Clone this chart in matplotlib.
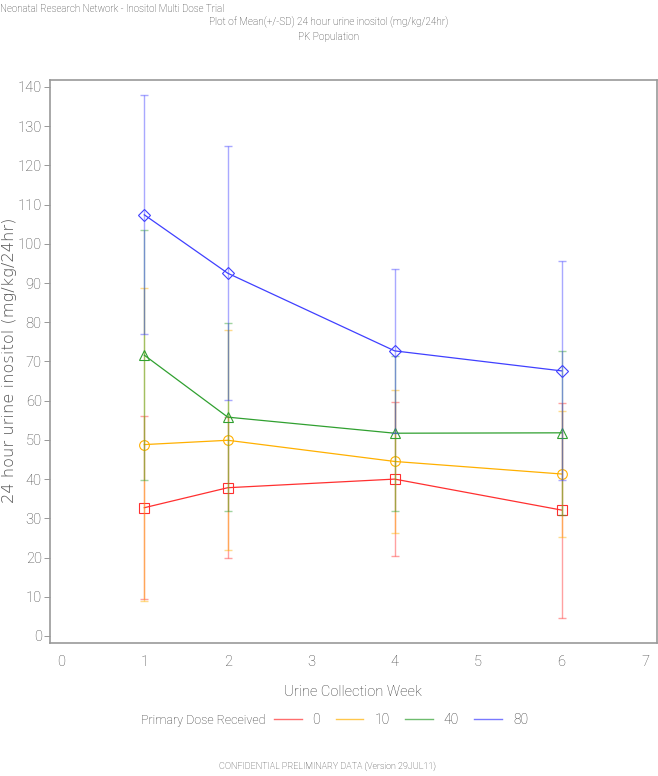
import matplotlib
matplotlib.use("Agg")
import matplotlib.pyplot as plt
from matplotlib.lines import Line2D

plt.rcParams['font.family'] = ['Roboto', 'DejaVu Sans']
plt.rcParams['font.weight'] = 'light'

weeks = [1, 2, 4, 6]
doses = ['0', '10', '40', '80']
means = {
    '0':  [32.7, 37.8, 40.0, 32.1],
    '10': [48.8, 49.9, 44.5, 41.3],
    '40': [71.6, 55.8, 51.7, 51.8],
    '80': [107.4, 92.5, 72.7, 67.6],
}
sds = {
    '0':  [23.3, 18.0, 19.6, 27.4],
    '10': [40.0, 28.0, 18.3, 16.1],
    '40': [31.9, 24.0, 19.8, 20.9],
    '80': [30.5, 32.4, 20.9, 27.9],
}
colors = {'0': '#ff3030', '10': '#ffb000', '40': '#30a030', '80': '#4040ff'}
markers = {'0': 's', '10': 'o', '40': '^', '80': 'D'}
msizes = {'0': 7, '10': 7, '40': 7, '80': 6}

fig = plt.figure(figsize=(6.58, 7.76), dpi=100)
ax = fig.add_axes([0.076, 0.1714, 0.922, 0.7256])

for d in doses:
    c = colors[d]
    ax.errorbar(weeks, means[d], yerr=sds[d], fmt='none', ecolor=c, alpha=0.45,
                elinewidth=1, capsize=3, capthick=1)
    ax.plot(weeks, means[d], color=c, lw=0.9, marker=markers[d], ms=msizes[d],
            mfc='none', mec=c, mew=0.8)

ax.set_xlim(-0.13, 7.14)
ax.set_ylim(-1.8, 141.8)
ax.set_xticks(range(0, 8))
ax.set_yticks(range(0, 141, 10))
ax.tick_params(axis='x', length=0, pad=9, labelsize=10.5, colors='#444444')
ax.tick_params(axis='y', length=4, width=0.6, labelsize=10.5, colors='#444444', color='#888888',
               pad=2)
for s in ax.spines.values():
    s.set_color('#999999')
    s.set_linewidth(1.2)

ax.set_xlabel('Urine Collection Week', fontsize=10.5, color='#333333', labelpad=11,
              fontweight='light')
fig.text(0.014, 0.536, '24 hour urine inositol (mg/kg/24hr)', rotation=90, fontsize=11.7,
         color='#555555', ha='center', va='center', family=['DejaVu Sans'],
         fontweight='light')

fig.text(0.0, 0.995, 'Neonatal Research Network - Inositol Multi Dose Trial', fontsize=7,
         ha='left', va='top', color='#333333')
fig.text(0.5, 0.979, 'Plot of Mean(+/-SD) 24 hour urine inositol (mg/kg/24hr)', fontsize=7.2,
         ha='center', va='top', color='#333333')
fig.text(0.5, 0.959, 'PK Population', fontsize=7.2, ha='center', va='top', color='#333333')

fig.text(0.214, 0.072, 'Primary Dose Received', fontsize=9, ha='left', va='center', color='#333333')
handles = [Line2D([0], [0], color=colors[d], lw=1, alpha=0.7) for d in doses]
fig.legend(handles, doses, loc='center left', bbox_to_anchor=(0.416, 0.072), ncol=4,
           frameon=False, fontsize=10, handlelength=2.0, columnspacing=1.1,
           handletextpad=0.8, borderpad=0, borderaxespad=0, labelcolor='#333333')

fig.text(0.497, 0.006, 'CONFIDENTIAL PRELIMINARY DATA (Version 29JUL11)', fontsize=6.5,
         ha='center', va='bottom', color='#333333')

fig.savefig('out.png', dpi=100)
